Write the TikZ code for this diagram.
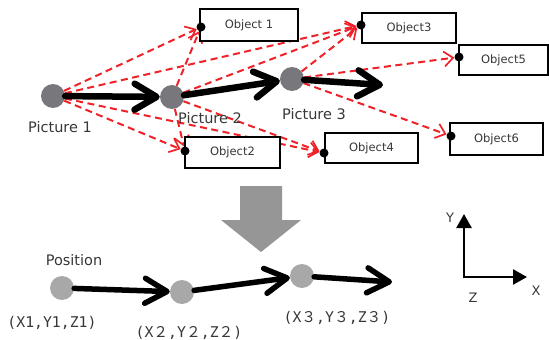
\documentclass[tikz,border=0pt]{standalone}
\usepackage{fontspec}
\setmainfont{DejaVu Sans}
\newfontfamily\coordfont{DejaVu Sans Mono}
\newfontfamily\cjk{Noto Sans CJK JP}
\usetikzlibrary{arrows.meta}
\definecolor{dred}{RGB}{238,34,40}
\definecolor{picgray}{RGB}{120,120,124}
\definecolor{posgray}{RGB}{168,168,168}
\definecolor{biggray}{RGB}{150,150,150}
\definecolor{txtgray}{RGB}{55,55,55}
\pgfdeclarelayer{bg}
\pgfsetlayers{bg,main}
\tikzset{
  picnode/.style={circle, fill=picgray, minimum size=24pt, inner sep=0pt},
  posnode/.style={circle, fill=posgray, minimum size=24pt, inner sep=0pt},
  objbox/.style={draw=black, line width=1.8pt, fill=white, inner sep=0pt, text=txtgray,
     font=\fontsize{11.5}{13}\selectfont},
  objdot/.style={circle, fill=black, minimum size=9pt, inner sep=0pt},
  dline/.style={draw=dred, line width=2pt, dash pattern=on 7pt off 4.5pt,
     -{Straight Barb[length=9pt,width=15pt,line width=1.7pt]}},
  bigarrow/.style={draw=black, line width=6.5pt, line cap=round,
     -{Straight Barb[length=22pt,width=26pt,round]}},
  lowarrow/.style={draw=black, line width=5.5pt, line cap=round,
     -{Straight Barb[length=22pt,width=25pt,round]}},
  axisline/.style={draw=black, line width=2.5pt, -{Triangle[length=14pt,width=15pt]}},
  lbl/.style={inner sep=0pt, text=txtgray, font=\fontsize{14.5}{16}\selectfont},
  coordlbl/.style={inner sep=0pt, text=txtgray, font=\coordfont\fontsize{14.8}{16}\selectfont},
  axlbl/.style={inner sep=0pt, text=txtgray, font=\fontsize{13}{14}\selectfont}
}
\begin{document}
\begin{tikzpicture}[x=1pt,y=-1pt]
\useasboundingbox (0,0) rectangle (549,340);

% picture nodes
\node[picnode] (p1) at (53,96) {};
\node[picnode] (p2) at (172,97) {};
\node[picnode] (p3) at (292,79) {};
\coordinate (p3e) at (383,85);

% object boxes
\node[objbox, minimum width=98pt, minimum height=32pt] (o1) at (249,25) {Object 1};
\node[objbox, minimum width=94pt, minimum height=30pt] (o3) at (409,28) {Object3};
\node[objbox, minimum width=89pt, minimum height=30pt] (o5) at (503.5,60) {Object5};
\node[objbox, minimum width=95pt, minimum height=31pt] (o2) at (232.5,152.5) {Object2};
\node[objbox, minimum width=93pt, minimum height=30pt] (o4) at (371.5,148) {Object4};
\node[objbox, minimum width=93pt, minimum height=32pt] (o6) at (496.5,139) {Object6};

\node[objdot] (d1) at (201,27) {};
\node[objdot] (d3) at (361,25) {};
\node[objdot] (d5) at (459,57) {};
\node[objdot] (d2) at (185,151) {};
\node[objdot] (d4) at (324,153) {};
\node[objdot] (d6) at (451,136) {};

% dashed relations
\begin{pgfonlayer}{bg}
\draw[dline] (p1) -- (d1);
\draw[dline] (p1) -- (d3);
\draw[dline] (p1) -- (d2);
\draw[dline] (p1) -- (d4);
\draw[dline] (p2) -- (d1);
\draw[dline] (p2) -- (d3);
\draw[dline] (p2) -- (d2);
\draw[dline] (p2) -- (d4);
\draw[dline] (p3) -- (d3);
\draw[dline] (p3) -- (d5);
\draw[dline] (p3) -- (d6);
\end{pgfonlayer}

% thick arrows
\draw[bigarrow] (p1) -- (p2);
\draw[bigarrow] (p2) -- (p3);
\draw[bigarrow] (p3) -- (p3e);

% labels
\node[lbl] (lp1) at (60,127) {Picture 1};
\node[lbl] (lp2) at (210,118) {Picture 2};
\node[lbl] (lp3) at (314,114) {Picture 3};

% big gray arrow
\fill[biggray] (240,186) -- (282,186) -- (282,220) -- (301,220) -- (261,252) -- (221,220) -- (240,220) -- cycle;

% positions
\node[posnode] (b1) at (62,288) {};
\node[posnode] (b2) at (182,292) {};
\node[posnode] (b3) at (302,276) {};
\coordinate (b3e) at (392,282);
\draw[lowarrow] (b1) -- (b2);
\draw[lowarrow] (b2) -- (b3);
\draw[lowarrow] (b3) -- (b3e);

\node[lbl] (lpos) at (74,260) {Position};
\node[coordlbl] (c1) at (52,323) {(X1,Y1,Z1)};
\node[coordlbl] (c2) at (189,333) {(X{\cjk ２},Y{\cjk ２},Z{\cjk ２})};
\node[coordlbl] (c3) at (337,318) {(X{\cjk ３},Y{\cjk ３},Z{\cjk ３})};

% axes
\coordinate (ax0) at (464,277);
\coordinate (axy) at (464,214);
\coordinate (axx) at (527,277);
\draw[axisline, line cap=butt] ([yshift=-1.25pt]ax0) -- (axy);
\draw[axisline] ([xshift=-1.25pt]ax0) -- (axx);
\node[axlbl] (ly) at (450,218) {Y};
\node[axlbl] (lx) at (536,291) {X};
\node[axlbl] (lz) at (473,298) {Z};
\end{tikzpicture}
\end{document}
